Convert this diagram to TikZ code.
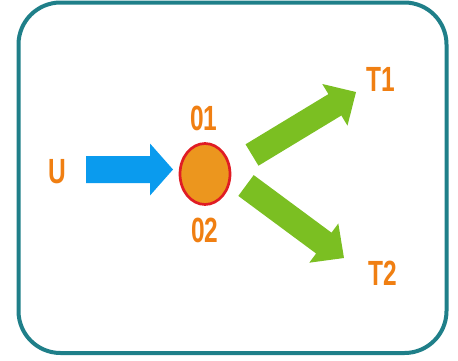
\documentclass[tikz,border=0pt]{standalone}
\usepackage{fontspec}
\newfontfamily\labfont[FakeStretch=0.7]{Liberation Sans}
\definecolor{frameteal}{HTML}{1F7F89}
\definecolor{labelorange}{HTML}{F07F12}
\definecolor{ballfill}{HTML}{EC961E}
\definecolor{ballring}{HTML}{E01C24}
\definecolor{arrowblue}{HTML}{0A9BEE}
\definecolor{arrowgreen}{HTML}{7BBF22}
\tikzset{
  lab/.style={text=labelorange, font=\labfont\bfseries\fontsize{35}{35}\selectfont, inner sep=0pt},
  ball/.style={ellipse, draw=ballring, line width=2.7pt, fill=ballfill, minimum width=50pt, minimum height=61pt, inner sep=0pt},
  framebox/.style={draw=frameteal, line width=4pt, rounded corners=42pt}
}
\usetikzlibrary{shapes.geometric}
% block arrow: length, shaft width, head width, head length
\newcommand{\blockarrow}[4]{%
  (0,-#2/2) -- (#1-#4,-#2/2) -- (#1-#4,-#3/2) -- (#1,0) -- (#1-#4,#3/2) -- (#1-#4,#2/2) -- (0,#2/2) -- cycle}
\begin{document}
\begin{tikzpicture}[x=1pt,y=-1pt]
\useasboundingbox (0,0) rectangle (458,360);
\draw[framebox] (18.5,2.5) rectangle (446.5,353);
\node[ball] (o) at (205,174) {};
\node[lab] (u) at (57,172) {U};
\node[lab] (o1) at (204,118) {01};
\node[lab] (o2) at (205,230) {02};
\node[lab] (t1) at (381,79) {T1};
\node[lab] (t2) at (383,273) {T2};
\begin{scope}[shift={(86,169.5)}]
  \fill[arrowblue] \blockarrow{87}{27}{52}{23};
\end{scope}
\begin{scope}[shift={(252,155)}, rotate=31.2]
  \fill[arrowgreen] \blockarrow{121.6}{25}{48.7}{24.7};
\end{scope}
\begin{scope}[shift={(246,185.5)}, rotate=-36.5]
  \fill[arrowgreen] \blockarrow{121.9}{25.9}{48.8}{25.1};
\end{scope}
\end{tikzpicture}
\end{document}
